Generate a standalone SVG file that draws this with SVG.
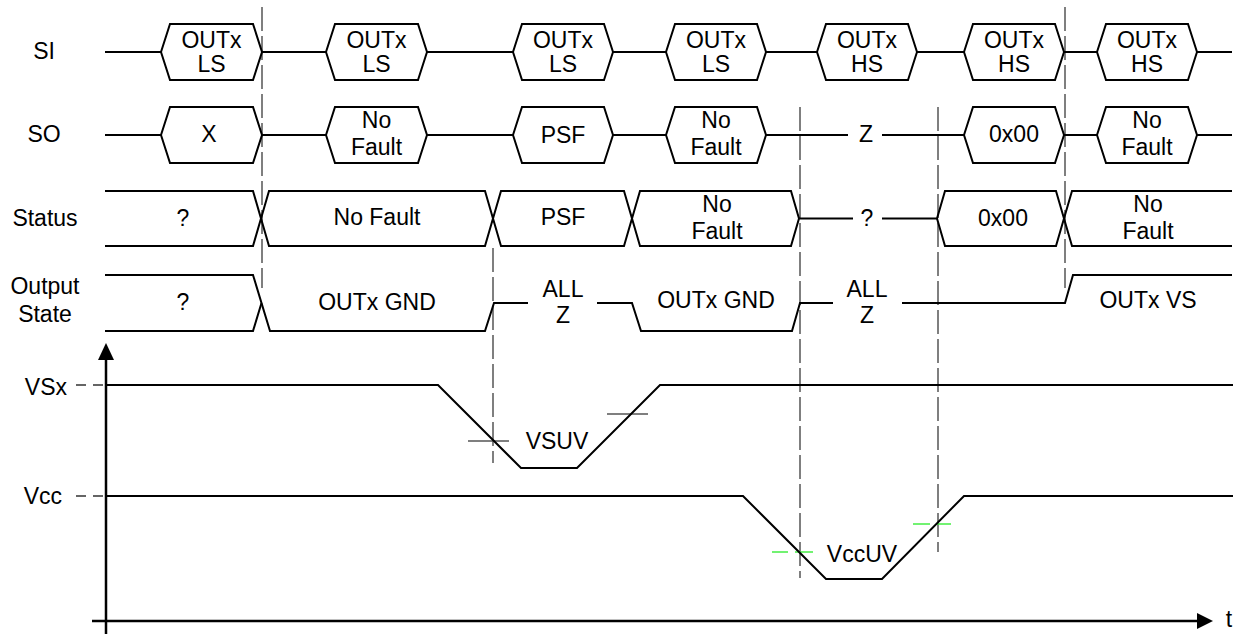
<svg xmlns="http://www.w3.org/2000/svg" width="1238" height="634" viewBox="0 0 1238 634">
<style>
text{font-family:"Liberation Sans",Arial,sans-serif;font-size:23px;fill:#000;text-anchor:middle}
.end{text-anchor:end}
.sig{fill:none;stroke:#000;stroke-width:2;stroke-linejoin:miter}
.box{fill:#fff;stroke:#000;stroke-width:2}
.dash{fill:none;stroke:#555;stroke-width:1.5;stroke-dasharray:24 5}
.thr{fill:none;stroke:#555;stroke-width:1.5}
.grn{fill:none;stroke:#44ee44;stroke-width:1.5}
.axis{fill:none;stroke:#000;stroke-width:2.5}
.tick{fill:none;stroke:#333;stroke-width:1.5;stroke-dasharray:10 7}
</style>
<rect width="1238" height="634" fill="#fff"/>

<g id="labels">
<text x="44" y="59">SI</text>
<text x="44" y="142">SO</text>
<text x="45" y="226">Status</text>
<text x="45" y="294">Output</text>
<text x="45" y="322">State</text>
<text class="end" x="67" y="395">VSx</text>
<text class="end" x="62" y="504">Vcc</text>
<text x="1229" y="627">t</text>
</g>

<g id="guides">
<path class="dash" d="M262,7 V288"/>
<path class="dash" d="M493,248 V463"/>
<path class="dash" d="M800,107 V578"/>
<path class="dash" d="M938,107 V552"/>
<path class="dash" d="M1065,7 V288"/>
</g>

<g id="si-row">
<path class="sig" d="M105,52 H161 M262,52 H326 M427,52 H513 M613,52 H666 M766,52 H817 M917,52 H964 M1064,52 H1097 M1197,52 H1232"/>
<polygon class="box" points="161,52 170,24 253,24 262,52 253,80 170,80"/>
<polygon class="box" points="326,52 335,24 418,24 427,52 418,80 335,80"/>
<polygon class="box" points="513,52 522,24 604,24 613,52 604,80 522,80"/>
<polygon class="box" points="666,52 675,24 757,24 766,52 757,80 675,80"/>
<polygon class="box" points="817,52 826,24 908,24 917,52 908,80 826,80"/>
<polygon class="box" points="964,52 973,24 1055,24 1064,52 1055,80 973,80"/>
<polygon class="box" points="1097,52 1106,24 1188,24 1197,52 1188,80 1106,80"/>
<text x="211.5" y="48">OUTx</text><text x="211.5" y="72">LS</text>
<text x="376.5" y="48">OUTx</text><text x="376.5" y="72">LS</text>
<text x="563" y="48">OUTx</text><text x="563" y="72">LS</text>
<text x="716" y="48">OUTx</text><text x="716" y="72">LS</text>
<text x="867" y="48">OUTx</text><text x="867" y="72">HS</text>
<text x="1014" y="48">OUTx</text><text x="1014" y="72">HS</text>
<text x="1147" y="48">OUTx</text><text x="1147" y="72">HS</text>
</g>

<g id="so-row">
<path class="sig" d="M105,135 H161 M262,135 H326 M427,135 H513 M613,135 H666 M766,135 H848 M882,135 H964 M1064,135 H1097 M1197,135 H1232"/>
<polygon class="box" points="161,135 170,107 253,107 262,135 253,163 170,163"/>
<polygon class="box" points="326,135 335,107 418,107 427,135 418,163 335,163"/>
<polygon class="box" points="513,135 522,107 604,107 613,135 604,163 522,163"/>
<polygon class="box" points="666,135 675,107 757,107 766,135 757,163 675,163"/>
<polygon class="box" points="964,135 973,107 1055,107 1064,135 1055,163 973,163"/>
<polygon class="box" points="1097,135 1106,107 1188,107 1197,135 1188,163 1106,163"/>
<text x="209" y="142">X</text>
<text x="376.5" y="128">No</text><text x="376.5" y="155">Fault</text>
<text x="563" y="143">PSF</text>
<text x="716" y="128">No</text><text x="716" y="155">Fault</text>
<text x="866" y="142">Z</text>
<text x="1014" y="142">0x00</text>
<text x="1147" y="128">No</text><text x="1147" y="155">Fault</text>
</g>

<g id="status-row">
<path class="sig" d="M105,191 H253 L269,246 H485 L501,191 H624 L640,246 H791 L799,218.5 H853"/>
<path class="sig" d="M105,246 H253 L269,191 H485 L501,246 H624 L640,191 H791 L799,218.5"/>
<path class="sig" d="M882,218.5 H937 L945,191 H1056 L1072,246 H1232"/>
<path class="sig" d="M937,218.5 L945,246 H1056 L1072,191 H1232"/>
<text x="183" y="226">?</text>
<text x="377" y="225">No Fault</text>
<text x="563" y="225">PSF</text>
<text x="717" y="212">No</text><text x="717" y="239">Fault</text>
<text x="867" y="226">?</text>
<text x="1003" y="226">0x00</text>
<text x="1148" y="212">No</text><text x="1148" y="239">Fault</text>
</g>

<g id="output-row">
<path class="sig" d="M105,275 H253 L270,331 H485 L494,303 H528"/>
<path class="sig" d="M105,331 H253 L261.5,303"/>
<path class="sig" d="M597,303 H632 L641,331 H792 L800,303 H833"/>
<path class="sig" d="M902,303 H1065 L1073,275 H1232"/>
<text x="183" y="310">?</text>
<text x="377" y="310">OUTx GND</text>
<text x="563" y="297">ALL</text><text x="563" y="323">Z</text>
<text x="716" y="308">OUTx GND</text>
<text x="867" y="297">ALL</text><text x="867" y="323">Z</text>
<text x="1148" y="308">OUTx VS</text>
</g>

<g id="axes">
<path class="axis" d="M106,634 V358"/>
<polygon points="106,343 98,360 114,360" fill="#000"/>
<path class="axis" d="M92,621 H1200"/>
<polygon points="1213,621 1197,613 1197,629" fill="#000"/>
<path class="tick" d="M76,385 H106"/>
<path class="tick" d="M76,496 H106"/>
</g>

<g id="thresholds">
<path class="thr" d="M468,441 H509"/>
<path class="thr" d="M607,414 H648"/>
<path class="grn" d="M772,552 H788 M795,552 H813"/>
<path class="grn" d="M913,524 H930 M936,524 H951"/>
</g>

<g id="waveforms">
<path class="sig" d="M106,385 H438 L521,468 H577 L660,385 H1233"/>
<path class="sig" d="M106,496 H743 L826,579 H882 L964,496 H1233"/>
<text x="557" y="449">VSUV</text>
<text x="862" y="562">VccUV</text>
</g>
</svg>
